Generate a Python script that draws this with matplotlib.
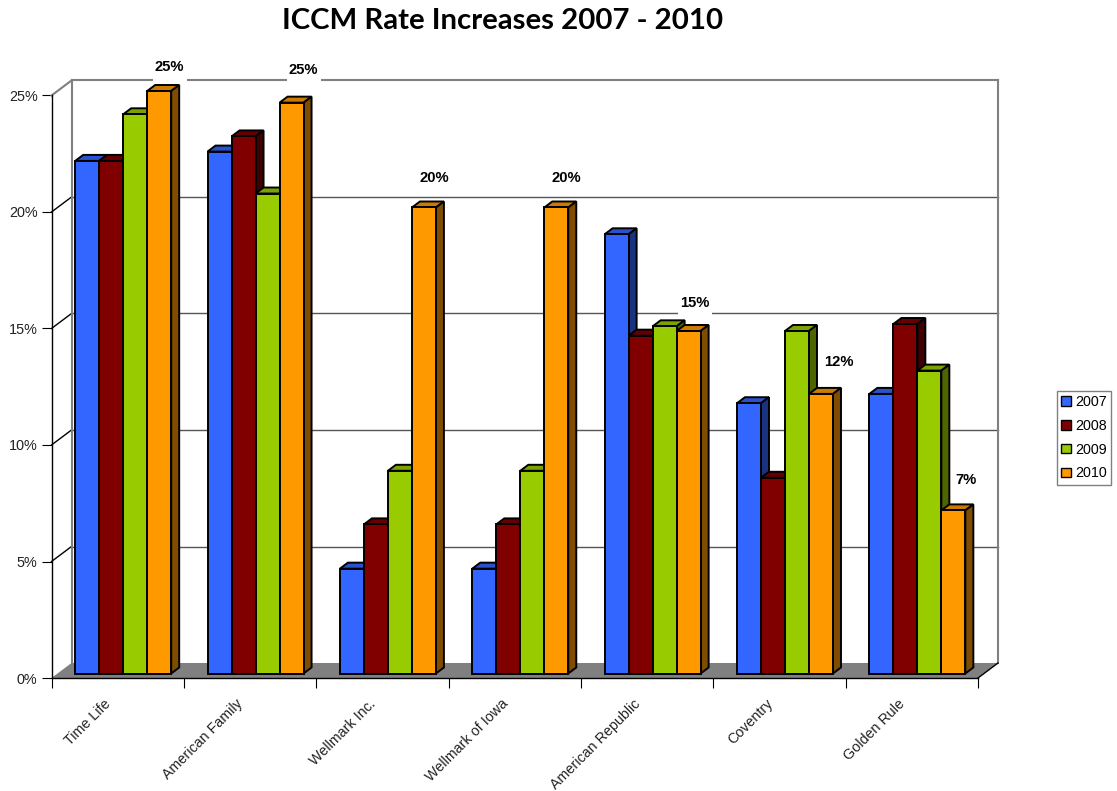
import matplotlib
matplotlib.use('Agg')
import matplotlib.pyplot as plt
from matplotlib.patches import Polygon, Patch, Rectangle
from matplotlib.ticker import PercentFormatter
from matplotlib.transforms import ScaledTranslation

# ------ DATA ------
PLANS = ['Time Life', 'American Family', 'Wellmark Inc.', 'Wellmark of Iowa',
         'American Republic', 'Coventry', 'Golden Rule']
RATE_2007 = [22.0, 22.4, 4.5, 4.5, 18.85, 11.6, 12.0]
RATE_2008 = [22.0, 23.05, 6.4, 6.4, 14.5, 8.4, 15.0]
RATE_2009 = [24.0, 20.6, 8.7, 8.7, 14.9, 14.7, 13.0]
RATE_2010 = [25.0, 24.5, 20.0, 20.0, 14.7, 12.0, 7.0]
YEARS = ['2007', '2008', '2009', '2010']
LABELS_2010 = ['25%', '25%', '20%', '20%', '15%', '12%', '7%']
Y_TICKS = [0, 5, 10, 15, 20, 25]

# front colour, top colour, side colour
COLORS = [('#3366FF', '#2952CC', '#1A3380'),
          ('#800000', '#660000', '#400000'),
          ('#99CC00', '#7AA300', '#4D6600'),
          ('#FF9900', '#CC7A00', '#804D00')]

plt.rcParams['font.family'] = ['Liberation Sans', 'DejaVu Sans']

W, H = 1117, 791
LEFT, RIGHT, BOTTOM, TOP = 51.5, 978.0, 678.0, 95.5
fig = plt.figure(figsize=(W / 100, H / 100), dpi=100)
ax = fig.add_axes([LEFT / W, 1 - BOTTOM / H, (RIGHT - LEFT) / W, (BOTTOM - TOP) / H])
ax.set_xlim(0, len(PLANS))
ax.set_ylim(0, 25)

# px -> data
PX = len(PLANS) / (RIGHT - LEFT)
PY = 25 / (BOTTOM - TOP)
WALL_DX, WALL_DY = 20 * PX, 15 * PY
BAR_W = 24 * PX
BAR_START = 23.7 * PX
BAR_BASE = 4.5 * PY
DEPTH_X, DEPTH_Y = 8 * PX, 6 * PY
N = len(PLANS)

# floor and walls
ax.add_patch(Polygon([(0, 0), (WALL_DX, WALL_DY), (N + WALL_DX, WALL_DY), (N, 0)],
                     closed=True, fc='#808080', ec='none', clip_on=False, zorder=1))
for v in Y_TICKS[1:]:
    top = v == 25
    ax.plot([0, WALL_DX], [v, v + WALL_DY], color='#808080' if top else 'black',
            lw=1.5 if top else 1, clip_on=False, zorder=2)
    ax.plot([WALL_DX, N + WALL_DX], [v + WALL_DY, v + WALL_DY], color='#808080' if top else '#555555',
            lw=1.5 if top else 1, clip_on=False, zorder=2)
ax.plot([WALL_DX, WALL_DX], [WALL_DY, 25 + WALL_DY], color='#808080', lw=1.5, clip_on=False, zorder=2)
ax.plot([N + WALL_DX, N + WALL_DX], [WALL_DY, 25 + WALL_DY], color='#808080', lw=1.5, clip_on=False, zorder=2)
ax.plot([N, N + WALL_DX], [0, WALL_DY], color='black', lw=1, clip_on=False, zorder=2)

# value labels, a few need a nudge (px)
NUDGE_X = [10.5, 12, 10, 10, 6, 18, 13]
NUDGE_Y = [24, 33, 29, 29, 28, 32, 30]
for i, (val, txt) in enumerate(zip(RATE_2010, LABELS_2010)):
    lx = i + BAR_START + 3.5 * BAR_W + NUDGE_X[i] * PX
    ly = BAR_BASE + val + NUDGE_Y[i] * PY
    ax.add_patch(Rectangle((lx - 17 * PX, ly - 17 * PY), 34 * PX, 23 * PY, fc='white', ec='none',
                           clip_on=False, zorder=3))
    ax.text(lx, ly, txt, ha='center', va='center', fontsize=10.6, fontweight='bold', color='black',
            clip_on=False, zorder=20)

# bars, left to right so the next bar hides the previous side
EDGE = dict(ec='black', lw=1.4, joinstyle='miter', clip_on=False, zorder=5)
SERIES = [RATE_2007, RATE_2008, RATE_2009, RATE_2010]
for i in range(N):
    for j, rates in enumerate(SERIES):
        x0 = i + BAR_START + j * BAR_W
        x1 = x0 + BAR_W
        y0 = BAR_BASE
        y1 = BAR_BASE + rates[i]
        front, lid, side = COLORS[j]
        ax.add_patch(Polygon([(x0, y1), (x0 + DEPTH_X, y1 + DEPTH_Y), (x1 + DEPTH_X, y1 + DEPTH_Y), (x1, y1)],
                             closed=True, fc=lid, **EDGE))
        ax.add_patch(Polygon([(x1, y0), (x1 + DEPTH_X, y0 + DEPTH_Y), (x1 + DEPTH_X, y1 + DEPTH_Y), (x1, y1)],
                             closed=True, fc=side, **EDGE))
        ax.add_patch(Rectangle((x0, y0), BAR_W, rates[i], fc=front, **EDGE))

# axes
for name in ['top', 'right']:
    ax.spines[name].set_visible(False)
ax.spines['left'].set_linewidth(1)
ax.spines['bottom'].set_linewidth(1)
ax.spines['bottom'].set_zorder(6)
ax.set_yticks(Y_TICKS)
ax.yaxis.set_major_formatter(PercentFormatter(decimals=0))
ax.tick_params(axis='y', length=7, width=0.8, pad=3, labelsize=10.4, labelcolor='#222222')
ax.set_xticks(range(N + 1))
ax.set_xticklabels([])
ax.set_xticks([i + 0.5 for i in range(N)], minor=True)
ax.set_xticklabels(PLANS, minor=True, rotation=45, ha='right', va='top', rotation_mode='anchor',
                   fontsize=10.3, color='#222222')
ax.tick_params(axis='x', which='major', length=7, width=0.8)
ax.tick_params(axis='x', which='minor', length=0, pad=13.5)
shift = ScaledTranslation(-14 / 100, 0, fig.dpi_scale_trans)
for label in ax.get_xticklabels(minor=True):
    label.set_transform(label.get_transform() + shift)

fig.text(503 / W, 1 - 21 / H, 'ICCM Rate Increases 2007 - 2010', family=['Lato', 'DejaVu Sans'],
         fontweight='bold', fontsize=21.2, ha='center', va='center', color='black')

handles = [Patch(fc=c[0], ec='black', lw=1, label=y) for c, y in zip(COLORS, YEARS)]
fig.legend(handles=handles, loc='upper left', bbox_to_anchor=(1057 / W, 1 - 391 / H), borderaxespad=0,
           fancybox=False, framealpha=1, edgecolor='#808080', fontsize=10.3, handlelength=0.65, handleheight=0.65,
           handletextpad=0.3, labelspacing=0.68, borderpad=0.3)

fig.savefig('out.png', dpi=100)
